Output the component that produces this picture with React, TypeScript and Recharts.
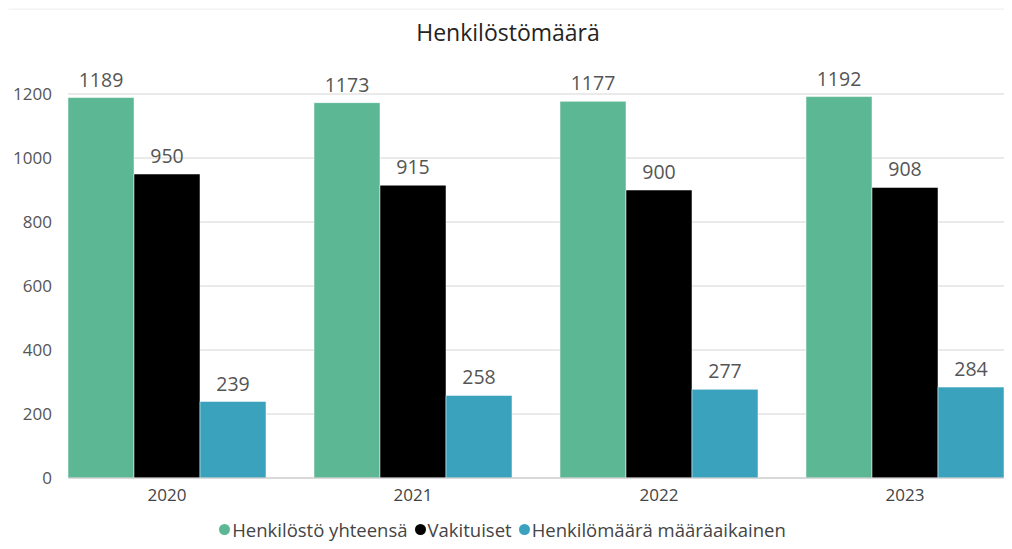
import { BarChart, Bar, XAxis, YAxis, CartesianGrid, Legend, LabelList } from 'recharts';

const years = ['2020', '2021', '2022', '2023'];
const totalStaff = [1189, 1173, 1177, 1192];
const permanentStaff = [950, 915, 900, 908];
const fixedTermStaff = [239, 258, 277, 284];
const yTicks = [0, 200, 400, 600, 800, 1000, 1200];

const series = [
  { key: 'total', name: 'Henkilöstö yhteensä', color: '#5CB894' },
  { key: 'permanent', name: 'Vakituiset', color: '#000000' },
  { key: 'fixedTerm', name: 'Henkilömäärä määräaikainen', color: '#3AA2BC' },
];

const data = years.map((year, i) => ({
  year,
  total: totalStaff[i],
  permanent: permanentStaff[i],
  fixedTerm: fixedTermStaff[i],
}));

const FONT = '"Open Sans", "Noto Sans", sans-serif';

function LegendContent() {
  return (
    <div style={{ display: 'flex', justifyContent: 'center', alignItems: 'center', fontFamily: FONT, fontSize: 18.5, color: '#444', paddingTop: 9 }}>
      {series.map((s) => (
        <span key={s.key} style={{ display: 'inline-flex', alignItems: 'center', marginRight: 7 }}>
          <span style={{ width: 11, height: 11, borderRadius: '50%', background: s.color, display: 'inline-block', marginRight: 2 }} />
          {s.name}
        </span>
      ))}
    </div>
  );
}

export default function App() {
  return (
    <div style={{ position: 'relative', width: 1000, height: 538, marginTop: 2, background: '#fff', boxShadow: '0 0 4px rgba(0,0,0,0.12)', fontFamily: FONT }}>
      <div style={{ position: 'absolute', top: 6, left: 0, width: 1000, textAlign: 'center', fontSize: 23, color: '#252423' }}>
        Henkilöstömäärä
      </div>
      <div style={{ position: 'absolute', top: 0, left: 0 }}>
        <BarChart
          width={1000}
          height={538}
          data={data}
          margin={{ top: 84, right: 4, left: 0, bottom: 0 }}
          barGap={0}
          barCategoryGap={0}
          barSize={66}
        >
          <CartesianGrid vertical={false} stroke="#e3e3e3" strokeWidth={1.5} />
          <XAxis
            dataKey="year"
            padding={{ left: -24, right: -24 }}
            tickLine={false}
            axisLine={{ stroke: '#c8c8c8' }}
            tick={{ fill: '#444', fontSize: 17, fontFamily: FONT }}
            tickMargin={5}
            height={30}
          />
          <YAxis
            domain={[0, 1200]}
            ticks={yTicks}
            tickLine={false}
            axisLine={false}
            width={60}
            tickMargin={10}
            tick={{ fill: '#555', fontSize: 17, fontFamily: FONT }}
          />
          <Legend verticalAlign="bottom" height={40} content={<LegendContent />} />
          {series.map((s) => (
            <Bar key={s.key} dataKey={s.key} name={s.name} fill={s.color} stroke="#fff" strokeWidth={0.5} isAnimationActive={false}>
              <LabelList dataKey={s.key} position="top" offset={11} fill="#555" fontSize={19.5} fontFamily={FONT} />
            </Bar>
          ))}
        </BarChart>
      </div>
    </div>
  );
}
